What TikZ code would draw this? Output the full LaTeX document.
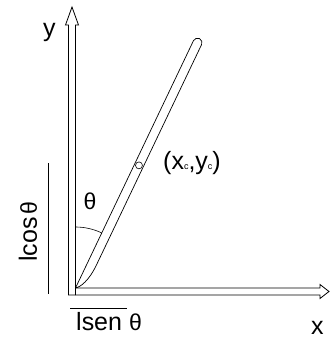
\documentclass[tikz,border=0pt]{standalone}
\usepackage{fontspec}
\setmainfont{Liberation Sans}
\begin{document}
\begin{tikzpicture}[x=1pt,y=1pt,
  axisline/.style={draw=black,line width=0.8pt,line join=miter},
  rodline/.style={draw=black,line width=0.7pt},
  lbl/.style={inner sep=0pt,font=\fontsize{25}{25}\selectfont},
  thlbl/.style={inner sep=0pt,font=\fontsize{23}{23}\selectfont}]
\useasboundingbox (0,0) rectangle (330,338);
% y axis (hollow arrow)
\draw[axisline] (68.5,43) -- (68.5,313) -- (65.5,313) -- (72,331) -- (78.5,313) -- (75.5,313) -- (75.5,43) -- cycle;
% x axis (hollow arrow)
\draw[axisline] (75.5,50) -- (320,50) -- (320,53.5) -- (329,46.5) -- (320,39.5) -- (320,43) -- (75.5,43);
\coordinate (O) at (75.5,50);
% rod
\begin{scope}[shift={(O)},rotate=-25.5]
  \draw[rodline] (0,0) -- (0,274) arc[start angle=180,end angle=0,radius=4.5]
     -- (9,30) .. controls (9,12) and (4,3) .. (0,0);
  \coordinate (cm) at (4.5,138);
\end{scope}
\draw[line width=0.6pt] (cm) circle[radius=3.5];
% angle arc
\draw[line width=0.6pt] ([shift={(90:61)}]O) arc[start angle=90,end angle=64.5,radius=61];
\node[thlbl] (th) at (90,137) {θ};
% labels
\node[lbl,anchor=base west] (ylab) at (43,301) {y};
\node[lbl,anchor=base west] (xlab) at (311,4) {x};
\node[lbl,anchor=base west] (cmlab) at (163,168) {(x{\fontsize{9}{9}\selectfont c},y{\fontsize{9}{9}\selectfont c})};
\node[lbl,anchor=base west] (lsen) at (76,7) {lsen\hspace{7pt}{\fontsize{23}{23}\selectfont θ}};
\node[lbl,anchor=base west,rotate=90] (lcos) at (37,76) {lcos\hspace{3pt}{\fontsize{23}{23}\selectfont θ}};
% dimension lines
\coordinate (h1) at (70,30);
\coordinate (h2) at (127,30);
\draw[line width=0.7pt] (h1) -- (h2);
\coordinate (v1) at (48.5,44);
\coordinate (v2) at (48.5,175);
\draw[line width=0.7pt] (v1) -- (v2);
\end{tikzpicture}
\end{document}
